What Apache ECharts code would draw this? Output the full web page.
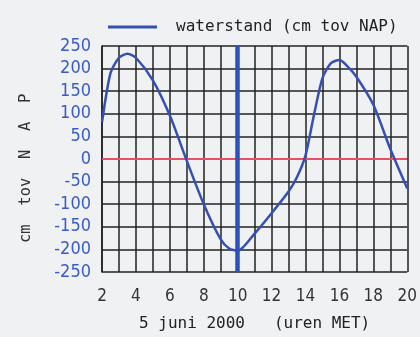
<!DOCTYPE html>
<html>
<head>
<meta charset="utf-8">
<script src="https://cdn.jsdelivr.net/npm/echarts@6/dist/echarts.min.js"></script>
<style>html,body{margin:0;padding:0;background:#f0f1f3;}#c{width:420px;height:337px;}</style>
</head>
<body>
<div id="c"></div>
<script>
const hours = [2, 2.5, 3, 3.5, 4, 5, 6, 7, 8, 9, 9.5, 10, 11, 12, 13, 13.5, 14, 14.5, 15, 15.5, 16, 16.5, 17, 18, 19, 20];
const waterstand = [81, 190, 224, 233, 224, 174, 96, -4, -100, -178, -198, -203, -165, -120, -72, -40, 8, 98, 179, 212, 219, 204, 182, 120, 22, -65];
const xTicks = [2, 4, 6, 8, 10, 12, 14, 16, 18, 20];
const yTicks = [-250, -200, -150, -100, -50, 0, 50, 100, 150, 200, 250];
const nowHour = 10;
const seriesName = 'waterstand (cm tov NAP)';

const chart = echarts.init(document.getElementById('c'));
chart.setOption({
  backgroundColor: '#f0f1f3',
  animation: false,
  legend: {
    left: 103, top: 14,
    icon: 'rect', itemWidth: 49, itemHeight: 3,
    textStyle: { fontFamily: 'DejaVu Sans Mono', fontSize: 16, color: '#222', padding: [0, 0, 0, 14] },
    data: [seriesName]
  },
  grid: { left: 102, top: 46, right: 12, bottom: 65 },
  xAxis: {
    type: 'value', min: 2, max: 20, interval: 1,
    axisLine: { show: true, lineStyle: { color: '#222', width: 1.5 } },
    axisTick: { show: false },
    splitLine: { show: true, lineStyle: { color: '#222', width: 1.5 } },
    axisLabel: {
      margin: 16, color: '#333', fontFamily: 'DejaVu Sans Condensed, DejaVu Sans, sans-serif', fontSize: 17,
      formatter: v => xTicks.includes(v) ? String(v) : ''
    },
    name: '5 juni 2000   (uren MET)', nameLocation: 'middle', nameGap: 44,
    nameTextStyle: { fontFamily: 'DejaVu Sans Mono', fontSize: 16, color: '#222' }
  },
  yAxis: {
    type: 'value', min: -250, max: 250, interval: 50,
    axisLine: { show: true, lineStyle: { color: '#222', width: 1.5 } },
    axisTick: { show: false },
    splitLine: { show: true, lineStyle: { color: '#222', width: 1.5 } },
    axisLabel: {
      margin: 11, color: '#3a5cc4', fontFamily: 'DejaVu Sans Condensed, DejaVu Sans, sans-serif', fontSize: 18,
      formatter: v => yTicks.includes(v) ? String(v) : ''
    },
    name: 'cm  tov  N  A  P  ', nameLocation: 'middle', nameGap: 68, nameRotate: 90,
    nameTextStyle: { fontFamily: 'DejaVu Sans Mono', fontSize: 15.5, color: '#333' }
  },
  series: [{
    name: seriesName,
    type: 'line',
    data: hours.map((h, i) => [h, waterstand[i]]),
    smooth: 0.25,
    showSymbol: false,
    lineStyle: { color: '#3550b0', width: 2.5 },
    itemStyle: { color: '#3550b0' },
    z: 5,
    markLine: {
      silent: true, symbol: 'none', label: { show: false },
      data: [
        { yAxis: 0, lineStyle: { color: '#e8506a', width: 2, type: 'solid' } },
        { xAxis: nowHour, lineStyle: { color: '#2a52b8', width: 4.5, type: 'solid' } }
      ]
    }
  }]
});
</script>
</body>
</html>
